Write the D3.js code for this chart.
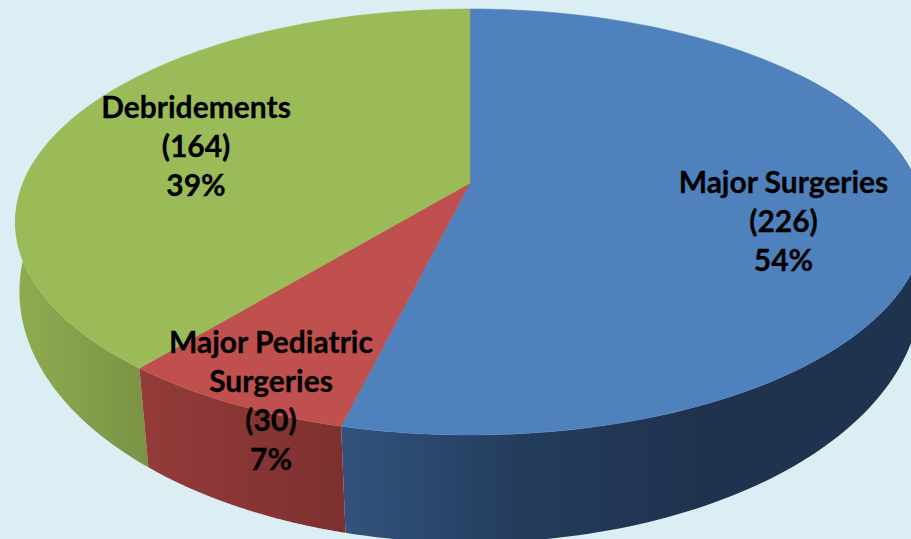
<!DOCTYPE html>
<html><head><meta charset="utf-8">
<script src="https://cdn.jsdelivr.net/npm/d3@7"></script>
<style>html,body{margin:0;padding:0;background:#dbeef4}svg{display:block}</style>
</head><body><svg id="c" width="911" height="539"></svg>
<script>
const categories = ["Major Surgeries", "Major Pediatric Surgeries", "Debridements"];
const counts = [226, 30, 164];
const percents = ["54%", "7%", "39%"];
const topColors = ["#4f81bd", "#c0504d", "#9bbb59"];
const wallStops = [["#32527c", "#243c5c", "#1f334e"], ["#943c3a", "#7d302f"], ["#8fab50", "#7a9345"]];
const labelLines = [["Major Surgeries","(226)","54%"],["Major Pediatric","Surgeries","(30)","7%"],["Debridements","(164)","39%"]];
const labelCenters = [[783.5,193],[271,353],[196,118]];

const W=911,H=539;
const svg=d3.select("#c");
svg.append("rect").attr("width",W).attr("height",H).attr("fill","#dbeef4");
const pie=d3.pie().sort(null).value(d=>d).startAngle(0).endAngle(2*Math.PI);
const arcs=pie(counts);
const top_={c:[470,183],a:205.9,b:447,k:-0.183};
const low={c:[470,252],a:245,b:445,k:-0.157};
function proj(g,t){const u=Math.sin(t),v=-Math.cos(t),w=1+g.k*v;return [g.c[0]+g.b*u/w,g.c[1]+g.a*v/w];}
const line=d3.line();
function samples(g,t0,t1){return d3.range(0,121).map(i=>proj(g,t0+(t1-t0)*i/120));}
const defs=svg.append("defs");
const wallRange=[[Math.PI*0.3,arcs[0].endAngle],[arcs[1].startAngle,arcs[1].endAngle],[arcs[2].startAngle,Math.PI*1.53]];
const wallX=[[344,700],[137,344],[20,146]];
[2,0,1].forEach(i=>{
  const [t0,t1]=wallRange[i];
  const pts=samples(top_,t0,t1).concat(samples(low,t1,t0));
  const id="w"+i;
  const gr=defs.append("linearGradient").attr("id",id).attr("gradientUnits","userSpaceOnUse")
    .attr("x1",wallX[i][0]).attr("x2",wallX[i][1]).attr("y1",0).attr("y2",0);
  wallStops[i].forEach((c,j)=>gr.append("stop").attr("offset",j/(wallStops[i].length-1)).attr("stop-color",c));
  svg.append("path").attr("d",line(pts)+"Z").attr("fill",`url(#${id})`);
});
arcs.forEach((d,i)=>{
  const pts=[top_.c].concat(samples(top_,d.startAngle,d.endAngle));
  svg.append("path").attr("d",line(pts)+"Z").attr("fill",topColors[i]).attr("stroke",topColors[i]).attr("stroke-width",0.5);
});
labelLines.forEach((ls,i)=>{
  const t=svg.append("text").attr("text-anchor","middle").attr("font-family","Lato, sans-serif").attr("font-weight",700).attr("font-size",30).attr("fill","#000").attr("stroke","#000").attr("stroke-width",0.3);
  ls.forEach((s,j)=>t.append("tspan").attr("x",labelCenters[i][0]).attr("y",labelCenters[i][1]+j*39).text(s));
});
</script></body></html>
